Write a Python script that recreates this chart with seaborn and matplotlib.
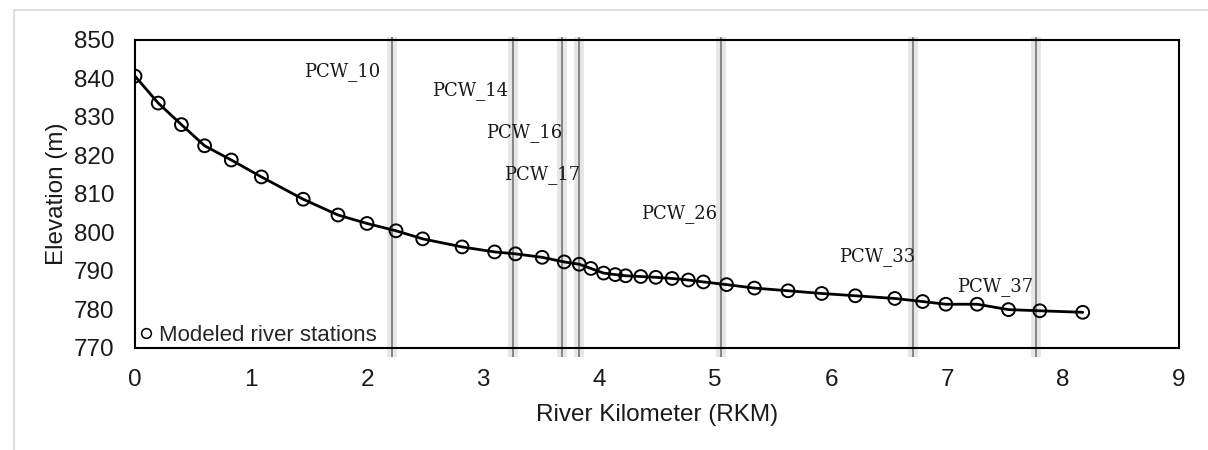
import matplotlib
matplotlib.use("Agg")
import matplotlib.pyplot as plt
import seaborn as sns
import pandas as pd
from matplotlib.lines import Line2D
from matplotlib.patches import Rectangle

# ---- data ----
rkm = [0.00, 0.20, 0.40, 0.60, 0.83, 1.09, 1.45, 1.75, 2.00, 2.25, 2.48, 2.82,
       3.10, 3.28, 3.51, 3.70, 3.83, 3.93, 4.04, 4.14, 4.23, 4.36, 4.49, 4.63,
       4.77, 4.90, 5.10, 5.34, 5.63, 5.92, 6.21, 6.55, 6.79, 6.99, 7.26, 7.53,
       7.80, 8.17]
elevation = [840.6, 833.6, 828.0, 822.5, 818.8, 814.4, 808.6, 804.5, 802.3, 800.4,
             798.3, 796.2, 794.9, 794.4, 793.5, 792.3, 791.7, 790.6, 789.4, 789.0,
             788.7, 788.5, 788.3, 788.0, 787.6, 787.1, 786.4, 785.5, 784.8, 784.1,
             783.5, 782.8, 782.0, 781.3, 781.3, 779.9, 779.6, 779.2]

well_names = ["PCW_10", "PCW_14", "PCW_16", "PCW_17", "PCW_26", "PCW_33", "PCW_37"]
well_rkm = [2.213, 3.257, 3.684, 3.828, 5.049, 6.71, 7.77]
label_x = [2.112, 3.213, 3.687, 3.836, 5.017, 6.724, 7.741]
label_y = [840.5, 835.7, 824.7, 813.8, 803.7, 792.4, 784.6]

x_ticks = [0, 1, 2, 3, 4, 5, 6, 7, 8, 9]
y_ticks = [770, 780, 790, 800, 810, 820, 830, 840, 850]

df = pd.DataFrame({"RKM": rkm, "Elevation": elevation})

sns.set_theme(style="white")
plt.rcParams["font.family"] = ["Liberation Sans", "DejaVu Sans"]

fig = plt.figure(figsize=(12.08, 4.5), dpi=100)
ax = fig.add_axes([135 / 1208, 1 - 347.7 / 450, (1179 - 135) / 1208, (347.7 - 40) / 450])

# outer chart-area border (light grey)
fig.patches.append(Rectangle((14 / 1208, -0.05), 1.2, 1.05 - 10 / 450,
                             transform=fig.transFigure, fill=False,
                             edgecolor="#d9d9d9", linewidth=1.2, zorder=0))

# well lines: light band + darker centre line
for xv in well_rkm:
    ax.axvline(xv, ymin=-0.03, ymax=1.01, color="#e6e6e6", linewidth=7,
               zorder=1, clip_on=False, solid_capstyle="butt")
    ax.axvline(xv, ymin=-0.03, ymax=1.01, color="#858585", linewidth=1.4,
               zorder=2, clip_on=False, solid_capstyle="butt")

sns.lineplot(data=df, x="RKM", y="Elevation", ax=ax, color="black",
             linewidth=2.0, zorder=3, legend=False)
sns.scatterplot(data=df, x="RKM", y="Elevation", ax=ax, marker="o", s=85,
                facecolor="none", edgecolor="black", linewidth=1.4,
                zorder=4, legend=False)

for name, lx, ly in zip(well_names, label_x, label_y):
    ax.text(lx, ly, name, ha="right", va="baseline", fontsize=13,
            family=["DejaVu Serif"], color="#1a1a1a", zorder=5)

ax.set_xlim(0, 9)
ax.set_ylim(770, 850)
ax.set_xticks(x_ticks)
ax.set_yticks(y_ticks)
ax.tick_params(axis="both", length=0, labelsize=17.5, colors="#1a1a1a")
ax.tick_params(axis="y", pad=15)
ax.tick_params(axis="x", pad=15)
ax.set_xlabel("River Kilometer (RKM)", fontsize=17.5, color="#1a1a1a", labelpad=10)
ax.set_ylabel("Elevation (m)", fontsize=17.5, color="#1a1a1a", labelpad=4)
for sp in ax.spines.values():
    sp.set_visible(True)
    sp.set_color("black")
    sp.set_linewidth(1.5)
    sp.set_zorder(6)

handle = Line2D([], [], linestyle="none", marker="o", markersize=7,
                markerfacecolor="none", markeredgecolor="black", markeredgewidth=1.1)
ax.legend([handle], ["Modeled river stations"], loc="lower left", frameon=False,
          fontsize=16, handletextpad=0.15, borderaxespad=0.0, handlelength=0.8,
          borderpad=0.3, bbox_to_anchor=(-0.004, -0.015))

fig.savefig("out.png", dpi=100)
